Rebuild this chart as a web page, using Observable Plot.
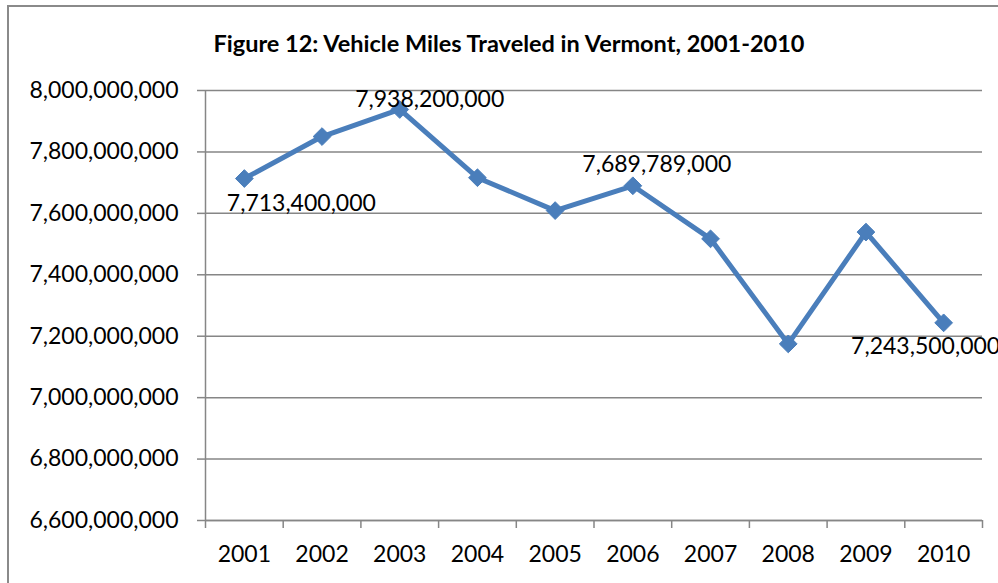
<!DOCTYPE html>
<html>
<head>
<meta charset="utf-8">
<script src="https://cdn.jsdelivr.net/npm/d3@7"></script>
<script src="https://cdn.jsdelivr.net/npm/@observablehq/plot@0.6"></script>
<style>
  html, body { margin: 0; padding: 0; background: #fff; }
  #wrap { position: relative; width: 998px; height: 583px; overflow: hidden; font-family: Lato, sans-serif; }
  #frame { position: absolute; left: 7px; top: 5px; width: 1100px; height: 700px; border-left: 2px solid #8a8a8a; border-top: 2px solid #8a8a8a; box-sizing: border-box; }
  #title { position: absolute; left: 0; width: 1018px; top: 29px; line-height: 28px; text-align: center; font-weight: bold; font-size: 23.5px; color: #000; }
  #chart { position: absolute; left: 0; top: 0; }
</style>
</head>
<body>
<div id="wrap">
  <div id="frame"></div>
  <div id="chart"></div>
  <div id="title">Figure 12: Vehicle Miles Traveled in Vermont, 2001-2010</div>
</div>
<script>
const years = [2001, 2002, 2003, 2004, 2005, 2006, 2007, 2008, 2009, 2010];
const miles = [7713400000, 7850000000, 7938200000, 7716000000, 7609000000, 7689789000, 7517000000, 7175000000, 7539000000, 7243500000];
const yTicks = [6600000000, 6800000000, 7000000000, 7200000000, 7400000000, 7600000000, 7800000000, 8000000000];
const labeledYears = [2001, 2003, 2006, 2010];

// label offsets (style only)
const labelOffsets = {2001: [57, 25], 2003: [30, -10], 2006: [24, -21], 2010: [-18, 24]};

const data = years.map((y, i) => ({year: y, miles: miles[i]}));
const labelData = data.filter(d => labeledYears.includes(d.year));
const boundaries = years.map(y => y - 0.5).concat([years[years.length - 1] + 0.5]);

const fmt = d3.format(",");
const gray = "#868686";
const blue = "#4a7ebb";

const labelMarks = labelData.map(d => Plot.text([d], {
  x: "year", y: "miles", text: d => fmt(d.miles),
  dx: labelOffsets[d.year][0], dy: labelOffsets[d.year][1],
  textAnchor: "middle", fontSize: 23, fill: "#000", clip: false
}));

const chart = Plot.plot({
  width: 998,
  height: 583,
  marginLeft: 205,
  marginRight: 16,
  marginTop: 90,
  marginBottom: 63,
  style: {fontFamily: "Lato, sans-serif", background: "transparent", overflow: "visible"},
  x: {type: "linear", domain: [boundaries[0], boundaries[boundaries.length - 1]]},
  y: {domain: [yTicks[0], yTicks[yTicks.length - 1]]},
  marks: [
    Plot.gridY(yTicks, {stroke: gray, strokeOpacity: 1, strokeWidth: 1.5}),
    Plot.axisY(yTicks, {tickSize: 8, tickPadding: 19, tickFormat: fmt, fontSize: 23, stroke: gray, strokeWidth: 1.5, strokeOpacity: 1, fill: "#000", label: null}),
    Plot.ruleX([boundaries[0]], {stroke: gray, strokeWidth: 1.5}),
    Plot.ruleY([yTicks[0]], {stroke: gray, strokeWidth: 1.5}),
    Plot.axisX(boundaries, {tickSize: 8, tickFormat: () => "", stroke: gray, strokeWidth: 1.5, strokeOpacity: 1, label: null}),
    Plot.axisX(years, {tickSize: 0, tickPadding: 25, tickFormat: d => String(d), fontSize: 23, fill: "#000", label: null}),
    Plot.line(data, {x: "year", y: "miles", stroke: blue, strokeWidth: 5, strokeLinejoin: "round"}),
    Plot.dot(data, {x: "year", y: "miles", symbol: "diamond2", r: 8, fill: blue, stroke: blue, strokeWidth: 1}),
    ...labelMarks
  ]
});
document.getElementById("chart").appendChild(chart);
</script>
</body>
</html>
